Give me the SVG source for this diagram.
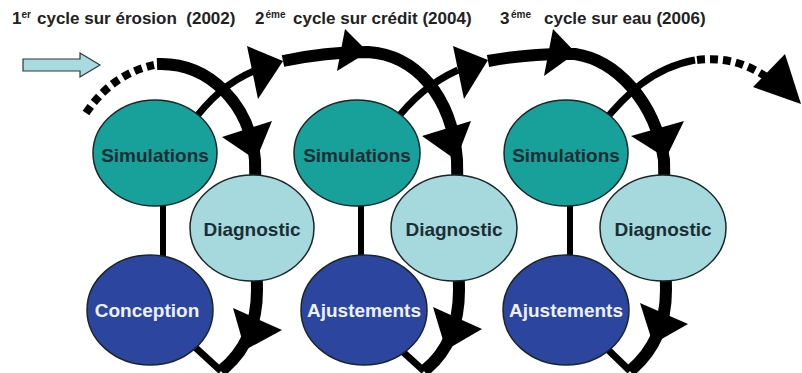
<svg xmlns="http://www.w3.org/2000/svg" width="802" height="373" viewBox="0 0 802 373">
<style>
.title{font-family:"Liberation Sans",Arial,sans-serif;font-weight:bold;font-size:17px;fill:#222}
.sup{font-size:10px}
.thick{fill:none;stroke:#000;stroke-width:12;stroke-linecap:butt;stroke-linejoin:round}
.thin{fill:none;stroke:#000;stroke-width:7;stroke-linejoin:round}
.vert{fill:none;stroke:#000;stroke-width:6}
.dash{fill:none;stroke:#000;stroke-width:8;stroke-dasharray:8 5}
.head{fill:#000}
.node{stroke:#1a2626;stroke-width:1.5}
.sim{fill:#18a09a}
.diag{fill:#a5d9dd}
.dark{fill:#2c46a0}
.lbl{font-family:"Liberation Sans",Arial,sans-serif;font-weight:bold;font-size:19px;text-anchor:middle}
.lblD{fill:#1b2e35}
.lblW{fill:#eef2ff}
</style>

<g id="titles">
<text class="title" xml:space="preserve" x="12" y="24">1<tspan class="sup" x="21.5" y="18">er</tspan><tspan x="37" y="24">cycle sur érosion  (2002)</tspan></text>
<text class="title" xml:space="preserve" x="255" y="24">2<tspan class="sup" x="265.5" y="18">éme</tspan><tspan x="293" y="24">cycle sur crédit (2004)</tspan></text>
<text class="title" xml:space="preserve" x="500" y="24">3<tspan class="sup" x="511" y="18">éme</tspan><tspan x="544" y="24">cycle sur eau (2006)</tspan></text>
</g>

<g id="start-arrow">
<polygon points="23,59 80,59 80,53 100,65 80,77 80,71 23,71" fill="#a8dadf" stroke="#2a3a3a" stroke-width="1.2"/>
</g>

<g id="connectors">
<!-- entry dotted -->
<path class="dash" d="M86,113 Q112,74 154,65"/>
<!-- cycle 1 big arc -->
<path class="thick" d="M157,64 C210,62 250,105 255,160 L257,290 C257,325 245,352 221,371"/>
<polyline class="thin" points="185,338 221,371"/>
<line class="vert" x1="163" y1="200" x2="163" y2="262"/>
<polygon class="head" points="222,137 272,121 256,160"/>
<polygon class="head" points="233,308 282,330 245,350"/>
<path class="thin" d="M190,125 C210,98 228,82 256,70"/>
<polygon class="head" points="247,46 258,99 283,61"/>
<!-- cycle 2 big arc -->
<path class="thick" d="M283,61 Q325,52 368,52 C415,55 452,95 457,160 L459,290 C459,325 448,352 424,371"/>
<polyline class="thin" points="392,342 424,371"/>
<line class="vert" x1="361" y1="200" x2="361" y2="262"/>
<polygon class="head" points="345,29 337,71 368,52"/>
<polygon class="head" points="422,136 471,121 456,160"/>
<polygon class="head" points="433,307 482,329 446,350"/>
<path class="thin" d="M392,125 C412,98 432,82 458,70"/>
<polygon class="head" points="453,46 464,99 488,60"/>
<!-- cycle 3 big arc -->
<path class="thick" d="M488,61 Q530,53 575,54 C615,60 655,100 664,160 L666,290 C666,322 655,350 630,371"/>
<polyline class="thin" points="598,340 630,371"/>
<line class="vert" x1="570" y1="200" x2="570" y2="262"/>
<polygon class="head" points="553,29 544,76 576,53"/>
<polygon class="head" points="631,136 684,121 666,158"/>
<polygon class="head" points="640,303 688,324 653,344"/>
<path class="thin" d="M601,125 C625,95 652,68 695,60"/>
<path class="dash" d="M697,60 C722,57 745,62 768,78"/>
<polygon class="head" points="785,54 753,87 801,104"/>
</g>

<g id="sim1"><ellipse class="node sim" cx="155" cy="153" rx="62" ry="53"/><text class="lbl lblD" x="155" y="162">Simulations</text></g>
<g id="diag1"><ellipse class="node diag" cx="252" cy="228" rx="62" ry="53"/><text class="lbl lblD" x="252" y="236">Diagnostic</text></g>
<g id="conception"><ellipse class="node dark" cx="150" cy="310" rx="63" ry="55"/><text class="lbl lblW" x="147" y="317">Conception</text></g>

<g id="sim2"><ellipse class="node sim" cx="357" cy="153" rx="63" ry="53"/><text class="lbl lblD" x="357" y="162">Simulations</text></g>
<g id="diag2"><ellipse class="node diag" cx="454" cy="228" rx="63" ry="53"/><text class="lbl lblD" x="454" y="236">Diagnostic</text></g>
<g id="ajust2"><ellipse class="node dark" cx="364" cy="310" rx="63" ry="55"/><text class="lbl lblW" x="364" y="317">Ajustements</text></g>

<g id="sim3"><ellipse class="node sim" cx="566" cy="153" rx="62" ry="53"/><text class="lbl lblD" x="566" y="162">Simulations</text></g>
<g id="diag3"><ellipse class="node diag" cx="663" cy="228" rx="63" ry="53"/><text class="lbl lblD" x="663" y="236">Diagnostic</text></g>
<g id="ajust3"><ellipse class="node dark" cx="566" cy="310" rx="63" ry="55"/><text class="lbl lblW" x="566" y="317">Ajustements</text></g>
</svg>
